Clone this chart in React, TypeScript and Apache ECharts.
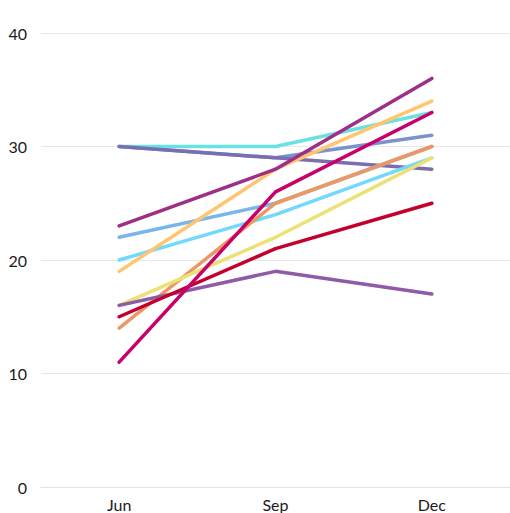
import React, { useEffect, useRef } from "react";
import * as echarts from "echarts";

const categories = ["Jun", "Sep", "Dec"];
const yTicks = [0, 10, 20, 30, 40];

const seriesNames = [
  "Slate", "Cyan", "Indigo", "Light blue", "Sky", "Orange", "Light orange",
  "Yellow", "Purple", "Red", "Magenta", "Crimson",
];
const seriesColors = [
  "#7b92cc", "#68e2e2", "#7a6db2", "#7ab6e9", "#72d8fd", "#ec9862", "#ffc570",
  "#ebe174", "#8f5aa8", "#c4002e", "#9e2f86", "#c7006a",
];
const seriesValues = [
  [30, 29, 31],
  [30, 30, 33],
  [30, 29, 28],
  [22, 25, 30],
  [20, 24, 29],
  [14, 25, 30],
  [19, 28, 34],
  [16, 22, 29],
  [16, 19, 17],
  [15, 21, 25],
  [23, 28, 36],
  [11, 26, 33],
];

export default function App() {
  const ref = useRef<HTMLDivElement>(null);
  useEffect(() => {
    if (!ref.current) return;
    const chart = echarts.init(ref.current, null, { renderer: "svg" });
    const font = "Lato, 'Noto Sans', sans-serif";
    chart.setOption({
      animation: false,
      grid: { left: 41, right: -5, top: 33, bottom: 26, containLabel: false },
      xAxis: {
        type: "category",
        data: categories,
        boundaryGap: true,
        axisLine: { show: true, lineStyle: { color: "#e2e2e2", width: 1 } },
        axisTick: { show: false },
        axisLabel: { color: "#1a1a1a", fontSize: 16, fontFamily: font, margin: 9 },
      },
      yAxis: {
        type: "value",
        min: yTicks[0],
        max: yTicks[yTicks.length - 1],
        interval: 10,
        axisLine: { show: false },
        axisTick: { show: false },
        splitLine: { lineStyle: { color: "#e8e8e8", width: 1 } },
        axisLabel: { color: "#1a1a1a", fontSize: 16, fontFamily: font, margin: 14 },
      },
      series: seriesNames.map((name, i) => ({
        name,
        type: "line",
        data: seriesValues[i],
        showSymbol: false,
        symbol: "none",
        lineStyle: { color: seriesColors[i], width: 3.5, cap: "round", join: "round" },
        itemStyle: { color: seriesColors[i] },
      })),
    });
    return () => chart.dispose();
  }, []);
  return (
    <div
      ref={ref}
      style={{ position: "absolute", left: 0, top: 0, width: 510, height: 513 }}
    />
  );
}
